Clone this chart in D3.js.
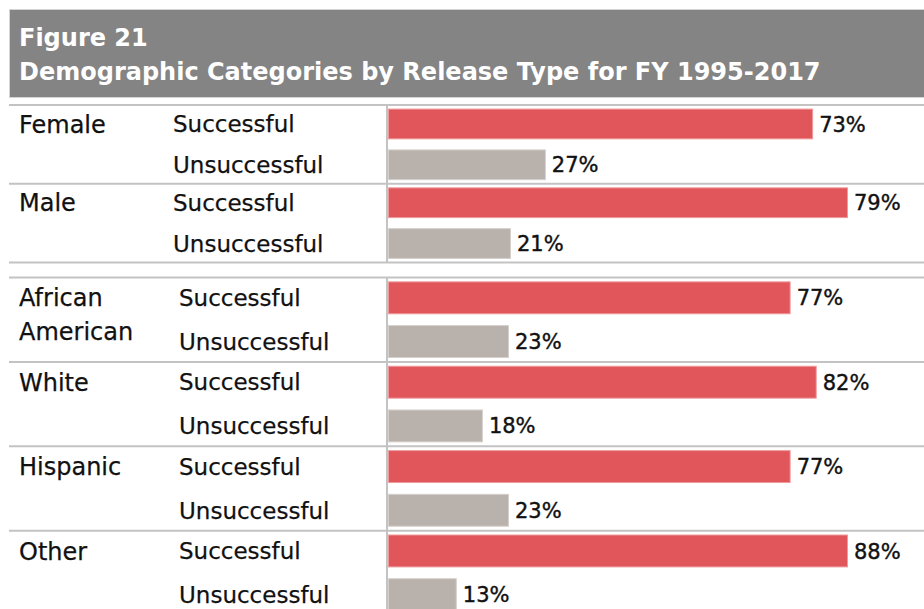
<!DOCTYPE html>
<html>
<head>
<meta charset="utf-8">
<script src="https://cdn.jsdelivr.net/npm/d3@7"></script>
<style>
  body { margin: 0; background: #fff; }
  text { font-family: "DejaVu Sans", Verdana, sans-serif; }
</style>
</head>
<body>
<script>
const WIDTH  = 924;
const HEIGHT = 609;

// data
const titleLines         = ['Figure 21', 'Demographic Categories by Release Type for FY 1995-2017'];
const releaseTypes       = ['Successful', 'Unsuccessful'];
const genderGroups       = ['Female', 'Male'];
const genderSuccessful   = [73, 79];
const genderUnsuccessful = [27, 21];
const raceGroups         = ['African American', 'White', 'Hispanic', 'Other'];
const raceSuccessful     = [77, 82, 77, 88];
const raceUnsuccessful   = [23, 18, 23, 13];

const COLORS = { Successful: '#e0565a', Unsuccessful: '#b9b1ac' };
const EDGES  = { Successful: '#ef9a9c', Unsuccessful: '#d6d0cc' };

const LINE_COLOR = '#c3c3c3';
const TEXT_COLOR = '#111';
const BAR_LEFT   = 388;
const BAR_RIGHT  = 847;
const AXIS_X     = 387;

const svg = d3.select('body')
    .append('svg')
    .attr('width', WIDTH)
    .attr('height', HEIGHT);

// header band
svg.append('rect')
    .attr('x', 9.5).attr('y', 9.5)
    .attr('width', WIDTH).attr('height', 88)
    .attr('fill', '#848484')
    .attr('stroke', '#d4d4d4');

svg.selectAll('text.title')
    .data(titleLines)
    .join('text')
    .attr('class', 'title')
    .attr('x', 19)
    .attr('y', (d, i) => 46 + i * 34)
    .attr('fill', '#fff')
    .attr('font-size', 24)
    .attr('font-weight', 'bold')
    .text(d => d);

const sections = [
    { groups: genderGroups, succ: genderSuccessful, unsucc: genderUnsuccessful, top: 105, bottom: 262.5, labelX: 173 },
    { groups: raceGroups,   succ: raceSuccessful,   unsucc: raceUnsuccessful,   top: 277.5, bottom: 615, labelX: 179 }
];

sections.forEach(sec => {
    let g = svg.append('g');

    let y0 = d3.scaleBand()
        .domain(sec.groups)
        .range([sec.top, sec.bottom]);

    let y1 = d3.scaleBand()
        .domain(releaseTypes)
        .range([0, y0.bandwidth()])
        .paddingInner(0.27)
        .paddingOuter(0.1);

    let x = d3.scaleLinear()
        .domain([0, d3.max(sec.succ.concat(sec.unsucc))])
        .range([BAR_LEFT, BAR_RIGHT]);

    let rows = [];
    sec.groups.forEach((grp, i) => {
        rows.push({ group: grp, type: 'Successful',   value: sec.succ[i] });
        rows.push({ group: grp, type: 'Unsuccessful', value: sec.unsucc[i] });
    });

    // separator lines
    let lineYs = sec.groups.map(d => y0(d)).concat([sec.bottom]);
    g.selectAll('line.sep')
        .data(lineYs)
        .join('line')
        .attr('x1', 9).attr('x2', WIDTH)
        .attr('y1', d => d).attr('y2', d => d)
        .attr('stroke', LINE_COLOR)
        .attr('stroke-width', 2);

    g.append('line')
        .attr('x1', AXIS_X).attr('x2', AXIS_X)
        .attr('y1', sec.top).attr('y2', sec.bottom)
        .attr('stroke', LINE_COLOR)
        .attr('stroke-width', 2);

    // bars
    g.selectAll('rect.bar')
        .data(rows)
        .join('rect')
        .attr('x', x(0) + 0.5)
        .attr('y', d => y0(d.group) + y1(d.type))
        .attr('width', d => x(d.value) - x(0))
        .attr('height', y1.bandwidth())
        .attr('fill', d => COLORS[d.type])
        .attr('stroke', d => EDGES[d.type])
        .attr('stroke-width', 1);

    // value labels
    g.selectAll('text.val')
        .data(rows)
        .join('text')
        .attr('x', d => x(d.value) + 7)
        .attr('y', d => y0(d.group) + y1(d.type) + y1.bandwidth() / 2)
        .attr('dy', '0.36em')
        .attr('font-size', 21)
        .attr('fill', TEXT_COLOR)
        .attr('stroke', TEXT_COLOR)
        .attr('stroke-width', 0.4)
        .text(d => d.value + '%');

    // release type labels
    g.selectAll('text.type')
        .data(rows)
        .join('text')
        .attr('x', sec.labelX)
        .attr('y', d => y0(d.group) + y1(d.type) + y1.bandwidth() / 2)
        .attr('dy', '0.36em')
        .attr('font-size', 23)
        .attr('fill', TEXT_COLOR)
        .attr('stroke', TEXT_COLOR)
        .attr('stroke-width', 0.25)
        .text(d => d.type);

    // group labels (wrap on spaces)
    let glab = g.selectAll('text.grp')
        .data(sec.groups)
        .join('text')
        .attr('x', 19)
        .attr('y', d => y0(d) + y1('Successful') + y1.bandwidth() / 2)
        .attr('font-size', 24)
        .attr('fill', TEXT_COLOR)
        .attr('stroke', TEXT_COLOR)
        .attr('stroke-width', 0.25);

    glab.selectAll('tspan')
        .data(d => d.split(' '))
        .join('tspan')
        .attr('x', 19)
        .attr('dy', (d, i) => i === 0 ? '0.36em' : '1.38em')
        .text(d => d);
});
</script>
</body>
</html>
